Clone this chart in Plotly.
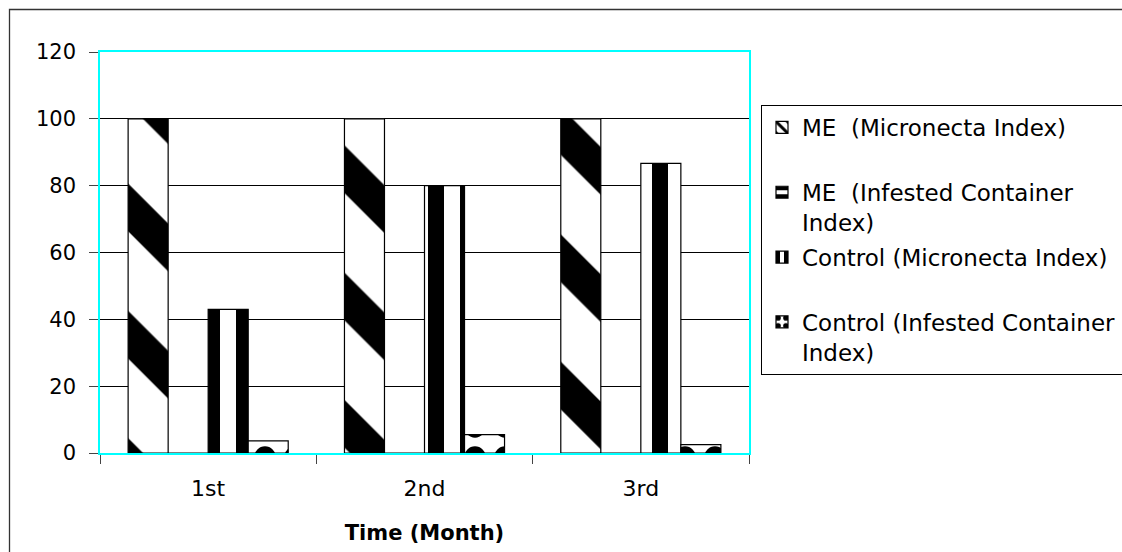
import plotly.graph_objects as go

# ---- data ----
months = ["1st", "2nd", "3rd"]
me_micronecta = [100, 100, 100]
me_infested = [0, 0, 0]
control_micronecta = [43, 80, 86.7]
control_infested = [3.6, 5.5, 2.5]

series_names = [
    "ME  (Micronecta Index)<br>\u00a0",
    "ME  (Infested Container<br>Index)",
    "Control (Micronecta Index)<br>\u00a0",
    "Control (Infested Container\u00a0\u00a0\u00a0<br>Index)",
]

W, H = 1122, 552
L, R, T, B = 100, 373, 52, 99
PW, PH = W - L - R, H - T - B


def px_x(p):
    return (p - L) / PW


def px_y(p):
    return (H - B - p) / PH


FONT = "DejaVu Sans, Arial, sans-serif"

fig = go.Figure()
patterns = [
    dict(shape="\\", size=90, solidity=0.375, fgcolor="black", bgcolor="white", fillmode="replace"),
    dict(shape="-", size=12, solidity=0.5, fgcolor="black", bgcolor="white", fillmode="replace"),
    dict(shape="|", size=32, solidity=0.5, fgcolor="black", bgcolor="white", fillmode="replace"),
    dict(shape=".", size=30, solidity=0.4, fgcolor="black", bgcolor="white", fillmode="replace"),
]
for name, vals, pat in zip(series_names,
                           [me_micronecta, me_infested, control_micronecta, control_infested],
                           patterns):
    fig.add_trace(go.Bar(
        x=months, y=vals, name=name, legendgroup=name,
        marker=dict(color="white", line=dict(color="black", width=1.2), pattern=pat),
    ))

fig.update_layout(
    width=W, height=H,
    margin=dict(l=L, r=R, t=T, b=B, autoexpand=False),
    paper_bgcolor="white", plot_bgcolor="white",
    barmode="group", bargap=0.26, bargroupgap=0,
    font=dict(family=FONT, size=21, color="black"),
    showlegend=True,
    legend=dict(
        x=px_x(761), y=px_y(105), xanchor="left", yanchor="top",
        bordercolor="black", borderwidth=1, bgcolor="white",
        font=dict(family=FONT, size=23, color="black"),
        valign="top", traceorder="grouped", tracegroupgap=2,
    ),
    shapes=[dict(type="rect", xref="paper", yref="paper",
                 x0=px_x(9.5), x1=px_x(1135), y0=px_y(9.5), y1=px_y(570),
                 line=dict(color="#333333", width=1.3), fillcolor="rgba(0,0,0,0)", layer="below")],
)

fig.update_xaxes(
    type="category", tickson="boundaries",
    showline=True, linecolor="#00FFFF", linewidth=1.5, mirror=True,
    ticks="outside", ticklen=9, tickcolor="#444444", tickwidth=1,
    tickfont=dict(family=FONT, size=22, color="black"),
    ticklabelstandoff=15,
    showgrid=False,
    title=dict(text="<b>Time (Month)</b>", font=dict(family=FONT, size=21, color="black"), standoff=25),
)
fig.update_yaxes(
    range=[0, 120], tick0=0, dtick=20,
    showline=True, linecolor="#00FFFF", linewidth=1.5, mirror=True,
    ticks="outside", ticklen=9, tickcolor="#444444", tickwidth=1,
    tickfont=dict(family=FONT, size=21, color="black"),
    ticklabelstandoff=9,
    showgrid=True, gridcolor="black", gridwidth=1,
    zeroline=False,
)

fig.write_html("out.html")
